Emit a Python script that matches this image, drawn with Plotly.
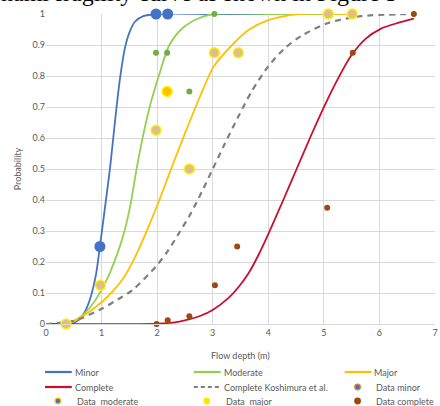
import plotly.graph_objects as go

# ---------------- data ----------------
minor_curve_x = [0, 0.3, 0.5, 0.6, 0.7, 0.8, 0.9, 0.97, 1.05, 1.15, 1.21, 1.27, 1.33, 1.42, 1.5, 1.6, 1.75, 2.0, 3.0, 4.0, 5.5]
minor_curve_y = [0, 0, 0.004, 0.015, 0.04, 0.085, 0.16, 0.25, 0.36, 0.5, 0.6, 0.7, 0.79, 0.89, 0.94, 0.975, 0.993, 1, 1, 1, 1]

moderate_curve_x = [0, 0.4, 0.6, 0.8, 1.0, 1.15, 1.3, 1.42, 1.52, 1.63, 1.75, 1.88, 2.03, 2.22, 2.46, 2.76, 3.02, 4.0, 5.5]
moderate_curve_y = [0, 0.002, 0.02, 0.055, 0.11, 0.165, 0.235, 0.305, 0.385, 0.5, 0.61, 0.71, 0.8, 0.9, 0.955, 0.987, 1, 1, 1]

major_curve_x = [0, 0.4, 0.7, 1.0, 1.2, 1.4, 1.6, 1.8, 2.04, 2.25, 2.49, 2.76, 3.02, 3.35, 3.65, 4.0, 4.54, 5.5]
major_curve_y = [0, 0.002, 0.03, 0.07, 0.105, 0.15, 0.215, 0.295, 0.4, 0.5, 0.61, 0.729, 0.831, 0.9, 0.949, 0.98, 1.0, 1.0]

complete_curve_x = [0, 2.0, 2.4, 2.76, 3.0, 3.29, 3.47, 3.65, 3.83, 4.0, 4.27, 4.51, 4.75, 5.02, 5.25, 5.49, 5.75, 6.03, 6.35, 6.62]
complete_curve_y = [0, 0.001, 0.008, 0.025, 0.045, 0.085, 0.12, 0.165, 0.225, 0.29, 0.4, 0.5, 0.6, 0.707, 0.79, 0.865, 0.92, 0.953, 0.972, 0.985]

koshimura_x = [0, 0.5, 0.97, 1.3, 1.56, 1.98, 2.19, 2.4, 2.6, 2.8, 3.0, 3.2, 3.45, 3.7, 4.0, 4.3, 4.6, 5.08, 5.67, 6.62]
koshimura_y = [0, 0.01, 0.046, 0.08, 0.11, 0.186, 0.235, 0.295, 0.355, 0.425, 0.5, 0.575, 0.665, 0.75, 0.831, 0.89, 0.93, 0.971, 0.993, 1.0]

minor_depth = [0.97, 1.98, 2.19]
minor_prob = [0.25, 1.0, 1.0]

moderate_depth = [1.98, 2.18, 2.58, 3.03]
moderate_prob = [0.875, 0.875, 0.75, 1.0]

major_depth = [0.36, 0.98, 1.98, 2.18, 2.58, 3.03, 3.46, 5.08, 5.51]
major_prob = [0.0, 0.125, 0.625, 0.75, 0.5, 0.875, 0.875, 1.0, 1.0]

complete_depth = [1.99, 2.19, 2.58, 3.04, 3.44, 5.06, 5.52, 6.62]
complete_prob = [0.0, 0.0125, 0.025, 0.125, 0.25, 0.375, 0.875, 1.0]

x_ticks = [0, 1, 2, 3, 4, 5, 6, 7]
y_ticks = [0, 0.1, 0.2, 0.3, 0.4, 0.5, 0.6, 0.7, 0.8, 0.9, 1]
y_tick_labels = ["0", "0.1", "0.2", "0.3", "0.4", "0.5", "0.6", "0.7", "0.8", "0.9", "1"]

# ---------------- styling ----------------
W, H = 440, 406
L, R, T, B = 46, 2, 14, 82
PW, PH = W - L - R, H - T - B
FONT = "Lato"
GREY = "#595959"

C_MINOR = "#4472C4"
C_MOD = "#92D050"
C_MAJOR = "#FFC000"
C_COMP = "#C8102E"
C_KOSH = "#7F7F7F"
C_MOD_DOT = "#70AD47"
C_COMP_DOT = "#9E480E"


def px_x(p):
    return (p - L) / PW


def px_y(p):
    return (H - B - p) / PH


fig = go.Figure()

for xs, ys, col, name in [
    (minor_curve_x, minor_curve_y, C_MINOR, "Minor"),
    (moderate_curve_x, moderate_curve_y, C_MOD, "Moderate"),
    (major_curve_x, major_curve_y, C_MAJOR, "Major"),
    (complete_curve_x, complete_curve_y, C_COMP, "Complete"),
]:
    fig.add_trace(go.Scatter(x=xs, y=ys, mode="lines", name=name,
                             line=dict(color=col, width=1.8, shape="spline", smoothing=0.8),
                             showlegend=False, cliponaxis=False))

fig.add_trace(go.Scatter(x=koshimura_x, y=koshimura_y, mode="lines", name="Complete Koshimura et al.",
                         line=dict(color=C_KOSH, width=2.2, dash="6px,5px", shape="spline", smoothing=0.8),
                         showlegend=False, cliponaxis=False))

fig.add_trace(go.Scatter(x=minor_depth, y=minor_prob, mode="markers", name="Data minor",
                         marker=dict(color=C_MINOR, size=11, line=dict(width=0)),
                         showlegend=False, cliponaxis=False))
fig.add_trace(go.Scatter(x=moderate_depth, y=moderate_prob, mode="markers", name="Data moderate",
                         marker=dict(color=C_MOD_DOT, size=6, line=dict(width=0)),
                         showlegend=False, cliponaxis=False))
major_fill = ["#DDBE8C"] * len(major_depth)
major_fill[3] = "#FFC000"
fig.add_trace(go.Scatter(x=major_depth, y=major_prob, mode="markers", name="Data major",
                         marker=dict(color=major_fill, size=10, line=dict(color="#FFF200", width=1.5)),
                         showlegend=False, cliponaxis=False))
fig.add_trace(go.Scatter(x=complete_depth, y=complete_prob, mode="markers", name="Data complete",
                         marker=dict(color=C_COMP_DOT, size=6, line=dict(width=0)),
                         showlegend=False, cliponaxis=False))

# ---------------- custom legend (compact, like the original) ----------------
shapes = []
annotations = []
rows = [372, 387, 401]
cols = [45, 195, 347]
line_items = [
    (0, 0, C_MINOR, "solid", "Minor"),
    (0, 1, C_MOD, "solid", "Moderate"),
    (0, 2, C_MAJOR, "solid", "Major"),
    (1, 0, C_COMP, "solid", "Complete"),
    (1, 1, C_KOSH, "dash", "Complete Koshimura et al."),
]
for r, c, col, dash, label in line_items:
    x0 = cols[c]
    shapes.append(dict(type="line", xref="paper", yref="paper",
                       x0=px_x(x0), x1=px_x(x0 + 27), y0=px_y(rows[r]), y1=px_y(rows[r]),
                       line=dict(color=col, width=2.2 if dash == "solid" else 2,
                                 dash="solid" if dash == "solid" else "4px,3px")))
    annotations.append(dict(xref="paper", yref="paper", x=px_x(x0 + 28), y=px_y(rows[r]),
                            xanchor="left", yanchor="middle", text=label, showarrow=False,
                            font=dict(family=FONT, size=9, color=GREY)))

marker_items = [
    (1, 2, C_MINOR, "#ED7D31", "Data minor"),
    (2, 0, C_MINOR, "#FFC000", "Data  moderate"),
    (2, 1, "#FFE600", "#FFE600", "Data  major"),
    (2, 2, C_COMP_DOT, C_COMP_DOT, "Data complete"),
]
for r, c, fill, edge, label in marker_items:
    cx = cols[c] + 13
    cy = rows[r]
    shapes.append(dict(type="circle", xref="paper", yref="paper",
                       x0=px_x(cx - 2.8), x1=px_x(cx + 2.8), y0=px_y(cy + 2.8), y1=px_y(cy - 2.8),
                       fillcolor=fill, line=dict(color=edge, width=1.2)))
    annotations.append(dict(xref="paper", yref="paper", x=px_x(cols[c] + 30), y=px_y(cy),
                            xanchor="left", yanchor="middle", text=label, showarrow=False,
                            font=dict(family=FONT, size=9, color=GREY)))

# axis titles
annotations.append(dict(xref="paper", yref="paper", x=0.5, y=px_y(355), xanchor="center", yanchor="middle",
                        text="Flow depth (m)", showarrow=False, font=dict(family=FONT, size=9, color=GREY)))
annotations.append(dict(xref="paper", yref="paper", x=px_x(17), y=0.5, xanchor="center", yanchor="middle",
                        text="Probability", textangle=-90, showarrow=False,
                        font=dict(family=FONT, size=9, color=GREY)))
# document text cropped at the top of the picture
annotations.append(dict(xref="paper", yref="paper", x=px_x(-1), y=px_y(-6.5), xanchor="left", yanchor="middle",
                        text="nami fragility curve as shown in Figure 5", showarrow=False,
                        font=dict(family="Liberation Serif", size=24, color="#000000")))

fig.update_layout(
    width=W, height=H,
    margin=dict(l=L, r=R, t=T, b=B),
    paper_bgcolor="white", plot_bgcolor="white",
    showlegend=False,
    shapes=shapes, annotations=annotations,
    font=dict(family=FONT, size=9, color=GREY),
)
fig.update_xaxes(range=[0, 7], tickvals=x_ticks, ticktext=[str(v) for v in x_ticks],
                 showgrid=True, gridcolor="#D9D9D9", gridwidth=1, zeroline=False,
                 showline=True, linecolor="#D9D9D9", linewidth=1, ticks="", ticklen=0,
                 ticklabeloverflow="allow",
                 tickfont=dict(family=FONT, size=9, color=GREY), fixedrange=True)
fig.update_yaxes(range=[0, 1], tickvals=y_ticks, ticktext=y_tick_labels,
                 showgrid=True, gridcolor="#D9D9D9", gridwidth=1, zeroline=False,
                 showline=False, ticks="", ticklen=0,
                 tickfont=dict(family=FONT, size=9, color=GREY), fixedrange=True)

fig.write_html("out.html", config={"displayModeBar": False},
               post_script="document.body.style.margin='0px';document.body.style.overflow='hidden';")
